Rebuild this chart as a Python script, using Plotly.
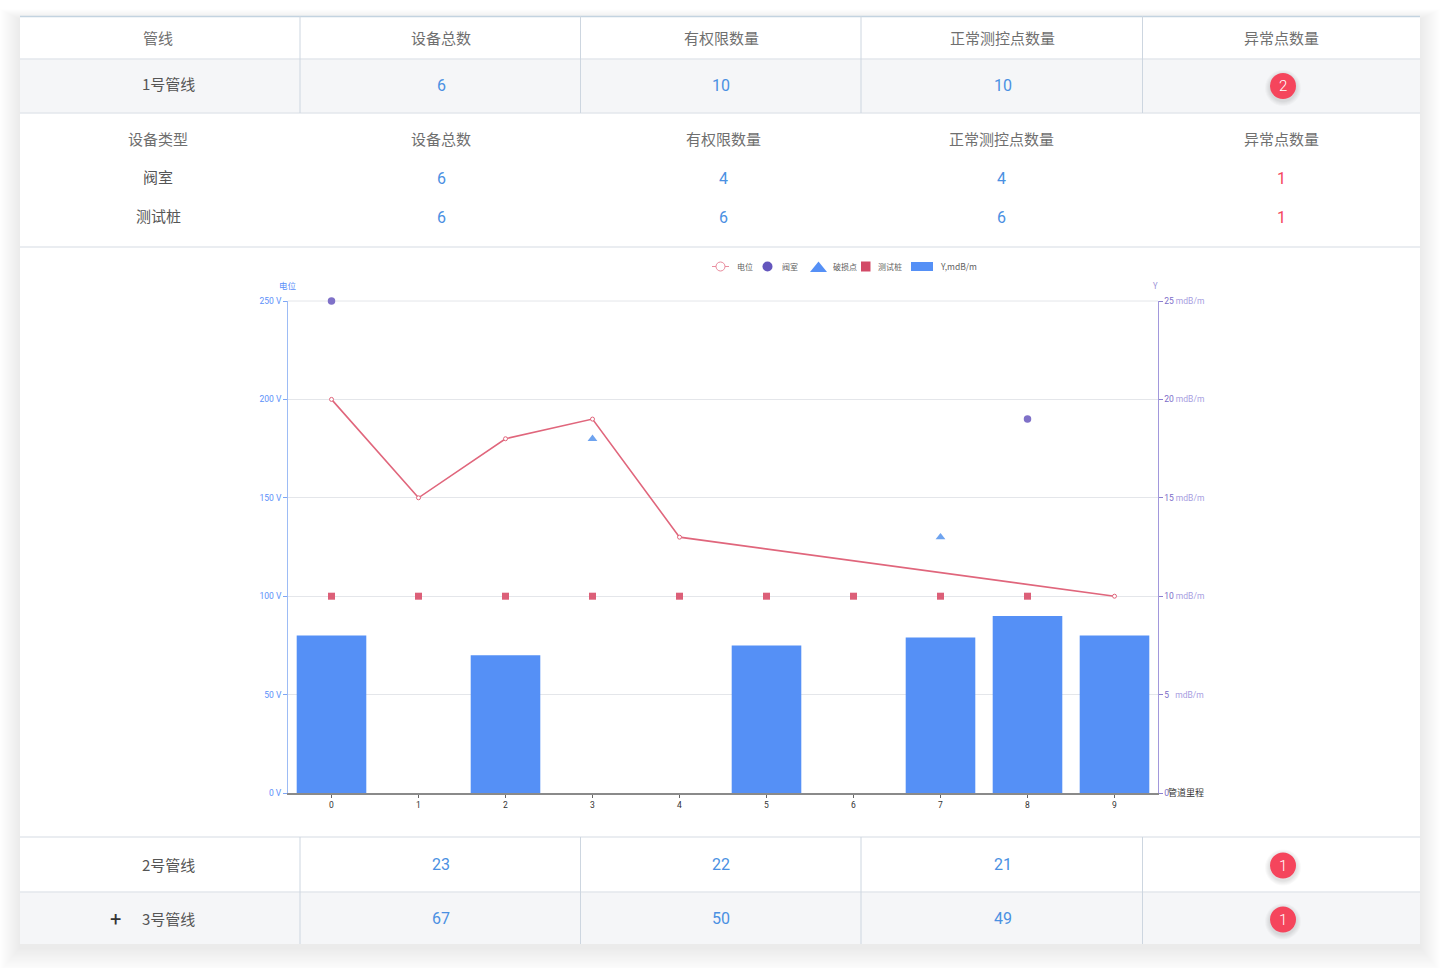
import plotly.graph_objects as go

W, H = 1440, 968
PL, PR, PT, PB = 288, 1158, 301, 793

# ---- data ----
mileage = ["0", "1", "2", "3", "4", "5", "6", "7", "8", "9"]
potential = [200, 150, 180, 190, 130, None, None, None, None, 100]
valve = [250, None, None, None, None, None, None, None, 190, None]
damage = [None, None, None, 180, None, None, None, 130, None, None]
test_pile = [100, 100, 100, 100, 100, 100, 100, 100, 100, None]
y_mdb = [8, None, 7, None, None, 7.5, None, 7.9, 9, 8]

left_ticks = [0, 50, 100, 150, 200, 250]
right_ticks = [0, 5, 10, 15, 20, 25]

main_header = ["管线", "设备总数", "有权限数量", "正常测控点数量", "异常点数量"]
sub_header = ["设备类型", "设备总数", "有权限数量", "正常测控点数量", "异常点数量"]
pipe_names = ["1号管线", "2号管线", "3号管线"]
pipe_total = ["6", "23", "67"]
pipe_perm = ["10", "22", "50"]
pipe_normal = ["10", "21", "49"]
pipe_abnormal = ["2", "1", "1"]
dev_names = ["阀室", "测试桩"]
dev_total = ["6", "6"]
dev_perm = ["4", "6"]
dev_normal = ["4", "6"]
dev_abnormal = ["1", "1"]
legend_names = ["电位", "阀室", "破损点", "测试桩", "Y,mdB/m"]

# ---- styles ----
CJK = "Noto Sans CJK SC"
NUM = "Roboto"
BLUE_TXT = "#4a90e2"
GREY_TXT = "#6f6f6f"
DARK_TXT = "#555555"
RED = "#f5455c"
LINE_RED = "#e0667c"
PURPLE = "#7f71c8"
AX_BLUE = "#5b8ff9"
AX_PURPLE = "#7b6cc8"
BAR = "#5590f6"
TRI = "#6ea3ef"
SQ = "#d9536e"
RULE = "#e3e7ed"
COL = "#cdd6e0"
ALT = "#f5f6f8"


def px(x):
    return (x - PL) / (PR - PL)


def py(y):
    return (PB - y) / (PB - PT)


shapes = []
annots = []


def rect(x0, y0, x1, y1, fill, opacity=1.0):
    shapes.append(dict(type="rect", xref="paper", yref="paper", x0=px(x0), x1=px(x1),
                       y0=py(y0), y1=py(y1), fillcolor=fill, opacity=opacity,
                       line=dict(width=0), layer="below"))


def oval(cx, cy, r, fill, opacity=1.0, line=None, layer="below"):
    shapes.append(dict(type="circle", xref="paper", yref="paper", x0=px(cx - r), x1=px(cx + r),
                       y0=py(cy - r), y1=py(cy + r), fillcolor=fill, opacity=opacity,
                       line=line or dict(width=0), layer=layer))


def seg(x0, y0, x1, y1, color, width=1.0):
    shapes.append(dict(type="line", xref="paper", yref="paper", x0=px(x0), x1=px(x1),
                       y0=py(y0), y1=py(y1), line=dict(color=color, width=width), layer="below"))


def text(x, y, s, color, size=15, family=CJK, anchor="center", weight=None):
    f = dict(family=family, size=size, color=color)
    if weight:
        f["weight"] = weight
    annots.append(dict(xref="paper", yref="paper", x=px(x), y=py(y), text=s, showarrow=False,
                       xanchor=anchor, yanchor="middle", font=f))


# card shadow
for i in range(20, 0, -1):
    rect(20 - i, 16 - i * 0.5 + 3, 1420 + i, 944 + i * 1.2 + 4, "#000000", 0.0048)
rect(20, 16, 1420, 944, "#ffffff")

# zebra rows
rect(20, 59, 1420, 113, ALT)
rect(20, 892, 1420, 944, ALT)

# rules
seg(20, 16.5, 1420, 16.5, "#c3d3e0", 1.5)
for y in [59, 113, 247, 837, 892]:
    seg(20, y, 1420, y, RULE, 1.5)
for x in [300, 580.5, 861, 1142.5]:
    seg(x, 16, x, 113, COL, 1)
    seg(x, 837, x, 944, COL, 1)

# top gridline of the plot, which the axis does not draw at its range edge
seg(PL, PT, PR, PT, "#e4e6ea", 1)

# header rows
head_x = [158, 441, 721, 1002, 1281]
sub_x = [158, 441, 723, 1001, 1281]
for x, s in zip(head_x, main_header):
    text(x, 38, s, GREY_TXT)
for x, s in zip(sub_x, sub_header):
    text(x, 139, s, GREY_TXT)

# pipe rows
pipe_y = [85.5, 865, 919]
label_dy = [-1.5, -0.5, -0.5]
val_x = [441, 721, 1002.5]
for i, y in enumerate(pipe_y):
    text(168, y + label_dy[i], pipe_names[i], DARK_TXT)
    vy = y if i == 0 else y - 1
    for x, col in zip(val_x, (pipe_total, pipe_perm, pipe_normal)):
        text(x, vy, col[i], BLUE_TXT, 16, NUM)
    for k in range(5, 0, -1):
        oval(1283, y + 2.5, 13 + k, "#000000", 0.025)
    oval(1283, y + 0.5, 13, RED)
    text(1283, y + 0.5, pipe_abnormal[i], "#ffffff", 15, NUM, weight=300)
text(115.5, 919, "+", "#333333", 20, NUM)

# device rows
dev_y = [178, 217]
for i, y in enumerate(dev_y):
    text(158, y - 1.5, dev_names[i], DARK_TXT)
    for x, col in zip(sub_x[1:4], (dev_total, dev_perm, dev_normal)):
        text(x, y, col[i], BLUE_TXT, 16, NUM)
    text(1281, y, dev_abnormal[i], RED, 16, NUM)

# legend
LY = 266.5
seg(712, LY, 729, LY, "#ea8fa0", 1)
oval(720.5, LY, 4.5, "#ffffff", line=dict(color="#e8899b", width=1))
oval(767.5, LY, 5, "#6456bd")
shapes.append(dict(type="path", xref="paper", yref="paper",
                   path=f"M {px(810)} {py(272)} L {px(827)} {py(272)} L {px(818.5)} {py(261.5)} Z",
                   fillcolor=BAR, line=dict(width=0), layer="below"))
rect(861, 261.5, 870.5, 271.5, "#d24a67")
rect(911, 262, 933, 271, BAR)
for x, s, fs in zip([745, 790, 844.5, 889.5, 958.5], legend_names, [8, 8, 8, 8, 8.5]):
    text(x, LY - 0.5, s, "#5f5f5f", fs)

# axis names
text(288, 285, "电位", AX_BLUE, 8.5)
text(1155, 285, "Y", "#9a8fd6", 8.5)
text(1186, 792.5, "管道里程", "#333333", 9)

fig = go.Figure()
fig.add_trace(go.Bar(x=mileage, y=y_mdb, yaxis="y2", name=legend_names[4], marker=dict(color=BAR, line=dict(width=0))))
fig.add_trace(go.Scatter(x=mileage, y=potential, mode="lines+markers", connectgaps=True, name=legend_names[0],
                         line=dict(color=LINE_RED, width=1.6),
                         marker=dict(symbol="circle", size=4, color="#ffffff", line=dict(color=LINE_RED, width=1))))
fig.add_trace(go.Scatter(x=mileage, y=valve, mode="markers", name=legend_names[1], cliponaxis=False,
                         marker=dict(symbol="circle", size=7.5, color=PURPLE)))
fig.add_trace(go.Scatter(x=mileage, y=damage, mode="markers", name=legend_names[2],
                         marker=dict(symbol="triangle-up", size=8.5, color=TRI)))
fig.add_trace(go.Scatter(x=mileage, y=test_pile, mode="markers", name=legend_names[3],
                         marker=dict(symbol="square", size=7, color="#dc5f78")))

right_text = ["0"] + [f"{v}<span style='color:#a79ddf'>{' ' if v >= 10 else '   '}mdB/m</span>" for v in right_ticks[1:]]

fig.update_layout(
    width=W, height=H, autosize=False, showlegend=False,
    paper_bgcolor="#ffffff", plot_bgcolor="rgba(0,0,0,0)",
    margin=dict(l=PL, r=W - PR, t=PT, b=H - PB, pad=0),
    font=dict(family=NUM), shapes=shapes, annotations=annots,
    xaxis=dict(type="category", range=[-0.5, 9.5], tickmode="array", tickvals=mileage, ticktext=mileage,
               showgrid=False, showline=True, linecolor="#8a8a8a", linewidth=1.5,
               ticks="outside", ticklen=3, tickcolor="#666666", tickwidth=1,
               tickfont=dict(size=8.5, color="#333333", family=NUM), zeroline=False),
    yaxis=dict(range=[0, 250], tickmode="array", tickvals=left_ticks, ticktext=[f"{v} V" for v in left_ticks],
               showgrid=True, gridcolor="#e4e6ea", gridwidth=1, showline=True, linecolor="#9dbcf5", linewidth=1,
               ticks="outside", ticklen=4, tickcolor="#7ea6f5", tickwidth=1, zeroline=False,
               tickfont=dict(size=8.5, color=AX_BLUE, family=NUM)),
    yaxis2=dict(range=[0, 25], overlaying="y", side="right", anchor="x", tickmode="array", tickvals=right_ticks,
                ticktext=right_text, showgrid=False, showline=True, linecolor="#a298dc", linewidth=1,
                ticks="outside", ticklen=3.5, tickcolor="#8b7fd0", tickwidth=1, zeroline=False,
                tickfont=dict(size=8.5, color=AX_PURPLE, family=NUM)),
)

fig.write_html("out.html", config=dict(displayModeBar=False),
               post_script="document.body.style.margin='0';document.documentElement.style.overflow='hidden';")
